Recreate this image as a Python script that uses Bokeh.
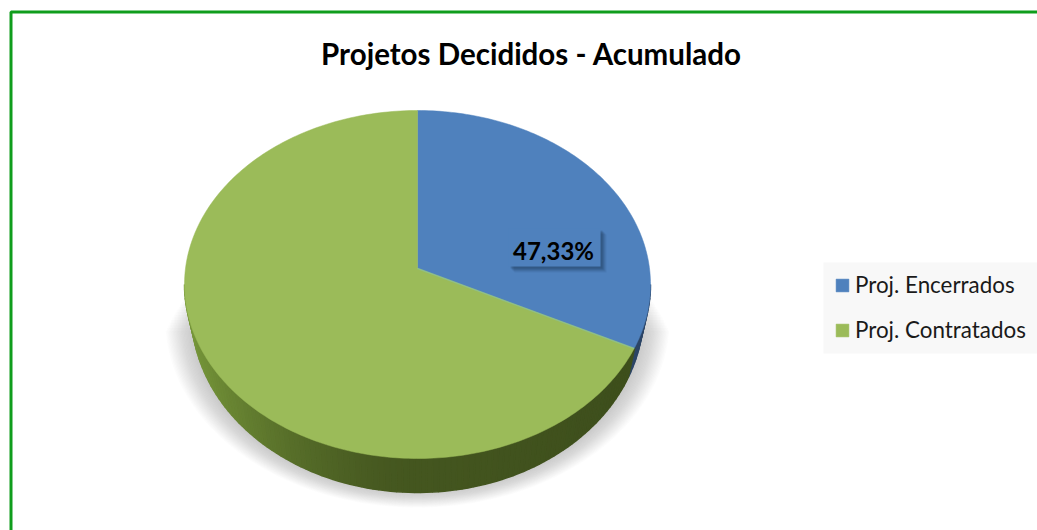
import numpy as np
from bokeh.core.properties import value
from bokeh.embed import file_html
from bokeh.models import Legend, LegendItem, Range1d
from bokeh.plotting import figure
from bokeh.resources import INLINE

# Data
categories = ["Proj. Encerrados", "Proj. Contratados"]
drawn_shares = [31, 69]  # share as the slices appear on the picture
colors = ["#4f81bd", "#9bbb59"]
data_label = "47,33%"
title = "Projetos Decididos - Acumulado"

FONT = "Lato"
CX, CY, RX, RY = 417, 284, 233, 174
APEX = (417, 268)
LCX, LCY, LRX, LRY = 417, 312, 226, 180

p = figure(width=1037, height=530, output_backend="svg", toolbar_location=None,
           x_range=Range1d(0, 1037), y_range=Range1d(530, 0),
           x_axis_type=None, y_axis_type=None, min_border=0,
           background_fill_color="white", border_fill_color="white")
p.grid.visible = False
p.outline_line_color = None


def top_pt(a):
    return CX + RX * np.sin(a), CY - RY * np.cos(a)


def low_pt(a):
    return LCX + LRX * np.sin(a), LCY - LRY * np.cos(a)


# Border
p.line([1037, 10.5, 10.5], [11.5, 11.5, 530], line_color="#0f9d1c", line_width=3)

# Soft shadow below the pie
N = 20
t = np.linspace(0, 2 * np.pi, 180)
for k in range(N):
    f = k / (N - 1)
    xs = 417 + (252 - 26 * f) * np.sin(t)
    ys = 320 + (187 - 15 * f) * -np.cos(t)
    ys = np.maximum(ys, 280 + 50 * (1 - f))
    p.patch(xs, ys, fill_color="#909090", fill_alpha=0.028, line_color=None)

# Angles from the values
total = sum(drawn_shares)
end_angle = 2 * np.pi * drawn_shares[0] / total

# Side of the pie
edges = np.linspace(np.pi / 2, 3 * np.pi / 2, 120)


def mix(c1, c2, f):
    a = [int(c1[i:i + 2], 16) for i in (1, 3, 5)]
    b = [int(c2[i:i + 2], 16) for i in (1, 3, 5)]
    return "#%02x%02x%02x" % tuple(int(round(u + (v - u) * f)) for u, v in zip(a, b))


for a0, a1 in zip(edges[:-1], edges[1:]):
    am = (a0 + a1) / 2
    x0t, y0t = top_pt(a0)
    x1t, y1t = top_pt(a1)
    x0l, y0l = low_pt(a0)
    x1l, y1l = low_pt(a1)
    if am < end_angle:
        col = "#2c4566"
    else:
        s = np.sin(am)  # +1 right, -1 left
        col = mix("#44561f", "#76963a", max(0.0, -s) ** 1.6) if s < 0 else mix("#44561f", "#3d4e1c", s)
    p.patch([x0t, x1t, x1l, x0l], [y0t, y1t, y1l, y0l], fill_color=col, line_color=col, line_width=1.5)

# Top slices
a_blue = np.linspace(0, end_angle, 120)
a_green = np.linspace(end_angle, 2 * np.pi, 240)
bx, by = top_pt(a_blue)
gx, gy = top_pt(a_green)
r_blue = p.patch(np.r_[APEX[0], bx], np.r_[APEX[1], by], fill_color=colors[0], line_color=colors[0], line_width=0.5)
r_green = p.patch(np.r_[APEX[0], gx], np.r_[APEX[1], gy], fill_color=colors[1], line_color=colors[1], line_width=0.5)

# Seam between the slices
ex, ey = top_pt(end_angle)
p.line([APEX[0], ex], [APEX[1], ey], line_color="#8fc08c", line_width=1.5, line_alpha=0.8)

# Data label box with a soft dark shadow
for off, alpha in [(6, 0.08), (5, 0.12), (4, 0.16), (3, 0.2), (2, 0.2)]:
    p.quad(left=[508 + off], right=[600 + off], top=[228 + off], bottom=[266 + off],
           fill_color="#1f3a5c", fill_alpha=alpha, line_color=None)
p.quad(left=[508], right=[600], top=[228], bottom=[266], fill_color="#4f81bd", line_color=None)
p.text([553], [250], text=[data_label], text_font=value(FONT), text_font_style="bold",
       text_font_size="24px", text_color="black", text_align="center", text_baseline="middle")

# Title
p.text([531], [53], text=[title], text_font=value(FONT), text_font_style="bold",
       text_font_size="29.5px", text_color="black", text_align="center", text_baseline="middle")

# Legend backdrop and legend
p.quad(left=[823], right=[1037], top=[262], bottom=[353], fill_color="#f8f8f8", line_color=None)
legend = Legend(items=[LegendItem(label=categories[0], renderers=[r_blue]),
                       LegendItem(label=categories[1], renderers=[r_green])],
                location=(834, 187), orientation="vertical", margin=0, padding=0, spacing=18,
                glyph_width=16, glyph_height=16, label_standoff=5, label_height=14,
                label_text_font=FONT, label_text_font_size="22.4px", label_text_color="#1a1a1a",
                background_fill_alpha=0, border_line_color=None)
p.add_layout(legend, "center")

open("out.html", "w").write(file_html(p, INLINE))
